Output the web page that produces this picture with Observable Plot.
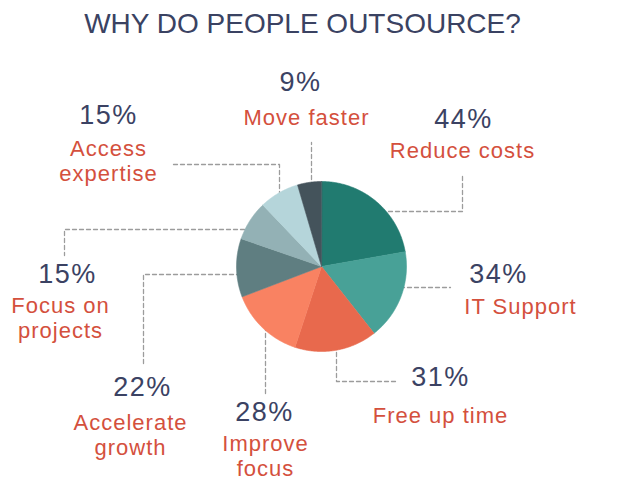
<!DOCTYPE html>
<html><head><meta charset="utf-8">
<script src="https://cdn.jsdelivr.net/npm/d3@7"></script>
<script src="https://cdn.jsdelivr.net/npm/@observablehq/plot@0.6"></script>
<style>
body{margin:0;background:#fff;}
#title{width:605px;height:46px;box-sizing:border-box;padding-top:1px;text-align:center;font-family:"Liberation Sans",Arial,sans-serif;font-size:28px;line-height:45px;color:#3a4262;white-space:nowrap;}
#chart svg{display:block;}
#chart g[font-size="22"] text{letter-spacing:1px;}
#chart g[font-size="27"] text{letter-spacing:1.5px;}
</style></head><body>
<div id="title">WHY DO PEOPLE OUTSOURCE?</div>
<div id="chart"></div>
<script>
// ---- data ----
const categories = ["Reduce costs","IT Support","Free up time","Improve focus","Accelerate growth","Focus on projects","Access expertise","Move faster"];
const values = [44, 34, 31, 28, 22, 15, 15, 9];
const labelText = ["Reduce costs","IT Support","Free up time","Improve\nfocus","Accelerate\ngrowth","Focus on\nprojects","Access\nexpertise","Move faster"];
const colors = ["#217b70","#48a197","#e8694d","#f98262","#5f7e81","#93b1b5","#b5d5da","#44535b"];

// ---- layout (page pixels) ----
const pieCenter = [321, 266], pieRadius = 85;
const numberPos = [[463,127],[498,282],[440,385],[264,420],[142,395],[67,282],[108,123],[300,90]];
const labelPos  = [[462,157],[520,313],[440,422],[265,475],[130,454],[60,337],[108,180],[306,124]];
const leaderPaths = [
  [[388,211],[462,211],[462,175]],
  [[400,287],[450,287]],
  [[336,345],[336,381],[395,381]],
  [[265,326],[265,393]],
  [[240,274],[143,274],[143,364]],
  [[244,229],[64,229],[64,255]],
  [[279,195],[279,164],[171,164]],
  [[311,186],[311,142]]
];
const titleH = 46, W = 643, H = 480;

// ---- derived ----
const arcs = d3.pie().sort(null).startAngle(0).endAngle(2 * Math.PI)(values);
const piePts = [];
arcs.forEach((a, i) => {
  const [cx, cy] = pieCenter;
  piePts.push({cat: categories[i], x: cx, y: cy});
  const n = Math.max(2, Math.ceil((a.endAngle - a.startAngle) / 0.01));
  for (let k = 0; k <= n; k++) {
    const t = a.startAngle + (a.endAngle - a.startAngle) * k / n;
    piePts.push({cat: categories[i], x: cx + pieRadius * Math.sin(t), y: cy - pieRadius * Math.cos(t)});
  }
});
const leaderPts = leaderPaths.flatMap((p, i) => p.map(([x, y]) => ({cat: categories[i], x, y})));
const numbers = categories.map((c, i) => ({cat: c, text: values[i] + "%", x: numberPos[i][0], y: numberPos[i][1]}));
const labels = categories.map((c, i) => ({cat: c, text: labelText[i], x: labelPos[i][0], y: labelPos[i][1]}));

const chart = Plot.plot({
  width: W, height: H - titleH,
  margin: 0,
  style: {fontFamily: "'Liberation Sans', Arial, sans-serif", background: "#fff"},
  x: {domain: [0, W], range: [0, W], axis: null},
  y: {domain: [titleH, H], range: [0, H - titleH], axis: null},
  color: {domain: categories, range: colors},
  marks: [
    Plot.line(leaderPts, {x: "x", y: "y", z: "cat", stroke: "#9c9c9c", strokeWidth: 1.3, strokeDasharray: "4,3"}),
    Plot.line(piePts, {x: "x", y: "y", z: "cat", fill: "cat", stroke: "cat", strokeWidth: 0.6, curve: "linear-closed"}),
    Plot.text(numbers, {x: "x", y: "y", text: "text", fill: "#3b4263", fontSize: 27, lineAnchor: "bottom", textAnchor: "middle"}),
    Plot.text(labels, {x: "x", y: "y", text: "text", fill: "#d4503d", fontSize: 22, lineHeight: 1.1, lineAnchor: "bottom", textAnchor: "middle"})
  ]
});
document.getElementById("chart").appendChild(chart);
</script>
</body></html>
